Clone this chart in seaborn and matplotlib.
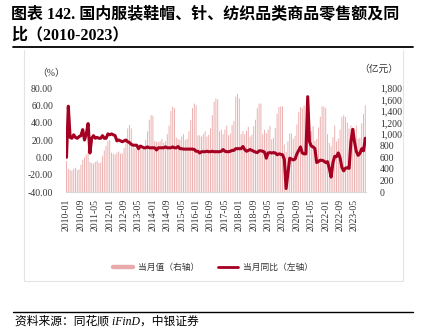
import numpy as np
import matplotlib
matplotlib.use("Agg")
import matplotlib.pyplot as plt
import seaborn as sns
from matplotlib.lines import Line2D
from matplotlib.ticker import FuncFormatter, MultipleLocator

# Monthly retail sales of apparel, footwear, hats, knitwear and textiles
months = [f"{y}-{m:02d}" for y in range(2010, 2024) for m in range(1, 13)][:167]

# 当月值 (亿元), right axis
retail_value = [
    536, 400, 380, 370, 400, 420, 380, 390, 470, 560, 600, 650,        # 2010
    720, 520, 500, 490, 520, 540, 500, 510, 620, 720, 800, 880,        # 2011
    900, 680, 660, 650, 680, 700, 660, 670, 760, 900, 1100, 1160,      # 2012
    1100, 790, 760, 740, 780, 800, 740, 760, 900, 1050, 1250, 1330,    # 2013
    1320, 880, 870, 860, 880, 920, 850, 880, 1000, 1150, 1400, 1480,   # 2014
    1450, 940, 920, 900, 960, 1000, 900, 920, 1050, 1250, 1450, 1530,  # 2015
    1500, 980, 980, 960, 1000, 1050, 960, 990, 1100, 1330, 1560, 1620, # 2016
    1600, 1050, 1080, 1000, 1080, 1150, 980, 1010, 1160, 1230, 1650, 1700,  # 2017
    1620, 1000, 1050, 1000, 1060, 1130, 960, 990, 1140, 1250, 1450, 1530,  # 2018
    1530, 1000, 1076, 1017, 1080, 1147, 912, 932, 1107, 1353, 1470, 1480,  # 2019
    1480, 820, 694, 877, 1013, 1012, 921, 972, 1168, 1380, 1466, 1450,     # 2020
    1500, 1060, 1062, 1017, 1051, 1139, 880, 919, 1116, 1301, 1480, 1480,  # 2021
    1450, 1000, 848, 792, 944, 1150, 873, 922, 1080, 1300, 1330, 1300,     # 2022
    1200, 1100, 1150, 1042, 1096, 1150, 919, 938, 1190, 1351, 1500,        # 2023
]

# 当月同比 (%), left axis
yoy_pct = [
    0, 59, 23, 22, 26, 23, 22, 24, 25, 32, 20, 27,                     # 2010
    39, 5, 22, 25, 22, 23, 22, 22, 25, 22, 22, 27,                     # 2011
    26, 27, 26, 25, 19, 20, 19, 18, 19, 20, 18, 17,                    # 2012
    15, 14, 14, 14, 10, 13, 12, 11, 11, 12, 11, 11,                    # 2013
    11, 11, 8.5, 11, 11, 11, 11, 12, 11, 11, 11, 12,                   # 2014
    11, 11, 12.5, 10, 10, 9.5, 9.5, 9.5, 9.5, 9.5, 9.5, 9,             # 2015
    7, 7, 5, 6.5, 6.5, 6.5, 7, 6.5, 6.5, 7, 6.5, 6.5,                  # 2016
    6.5, 6.5, 7, 9, 7, 6.5, 6.5, 7, 8, 8, 10, 10,                      # 2017
    10, 10, 12.5, 9, 7, 8, 9, 8, 7, 6, 5.5, 7.5,                       # 2018
    7.5, 7, 6, -1, 5, 5.5, 5, 5.5, 5, 3, 4, 3.5,                       # 2019
    3, -2, -36, -18.5, -1, -2, -3, -2, 4, 8, 12, 5,                    # 2020
    4, 4, 70, 18, 13, 12, 10, -6, -4.8, -3.3, -3.5, -4.3,              # 2021
    -6, -5, -12.7, -22.8, -6.4, 1.2, 0.8, 5.1, -0.7, -11.6, -15.6, -12.5,  # 2022
    -12, -12.7, 17.7, 32.4, 17.6, 6.9, 2.3, 4.5, 9.9, 7.5, 22.0,       # 2023
]

BAR_COLOR = "#EDB2B2"
LINE_COLOR = "#A50021"
TEXT_COLOR = "#333333"
GRID_GRAY = "#D9D9D9"

sns.set_style("white")
plt.rcParams["font.family"] = ["Liberation Serif", "Noto Sans CJK SC"]
plt.rcParams["axes.unicode_minus"] = False

W, H = 422, 335
fig = plt.figure(figsize=(W / 100, H / 100), dpi=100)

def fx(px):
    return px / W

def fy(py):
    return 1 - py / H

n = len(months)
pos = np.arange(n)

# base axes holds the bars (scale shown on the right), twin holds the line
ax_bar = fig.add_axes([fx(65.6), fy(192), fx(366.2) - fx(65.6), fy(88) - fy(192)])
ax_line = ax_bar.twinx()

sns.barplot(x=pos, y=retail_value, ax=ax_bar, color=BAR_COLOR, width=0.55,
            saturation=1, errorbar=None, native_scale=True, linewidth=0)
# bars are under two pixels apart, so keep them from snapping to zero width
for bar in ax_bar.patches:
    bar.set_snap(False)

sns.lineplot(x=pos, y=yoy_pct, ax=ax_line, color=LINE_COLOR, linewidth=2.2)

ax_bar.yaxis.tick_right()
ax_line.yaxis.tick_left()

ax_bar.set_xlim(-0.5, n - 0.5)
ax_bar.set_ylim(0, 1800)
ax_line.set_ylim(-40, 80)
ax_line.yaxis.set_major_locator(MultipleLocator(20))
ax_bar.yaxis.set_major_locator(MultipleLocator(200))
ax_line.yaxis.set_major_formatter(FuncFormatter(lambda v, _: f"{v:.2f}"))
ax_bar.yaxis.set_major_formatter(FuncFormatter(lambda v, _: f"{v:,.0f}"))

tick_pos = pos[::8]
ax_bar.set_xticks(tick_pos)
ax_bar.set_xticklabels([months[i] for i in tick_pos], rotation=90)

for a in (ax_bar, ax_line):
    a.set_xlabel("")
    a.set_ylabel("")
    for s in a.spines.values():
        s.set_visible(False)
ax_bar.spines["bottom"].set_visible(True)
ax_bar.spines["bottom"].set_color(GRID_GRAY)
ax_bar.spines["bottom"].set_linewidth(0.8)

ax_bar.tick_params(axis="x", length=3, width=0.6, color=GRID_GRAY, labelsize=7,
                   labelcolor=TEXT_COLOR, pad=2)
ax_line.tick_params(axis="y", length=0, labelsize=7, labelcolor=TEXT_COLOR, pad=9)
ax_bar.tick_params(axis="y", length=0, labelsize=7, labelcolor=TEXT_COLOR, pad=10)

# unit labels
fig.text(fx(51), fy(73), "（%）", fontsize=7, color=TEXT_COLOR, ha="center", va="center")
fig.text(fx(379), fy(69), "（亿元）", fontsize=7, color=TEXT_COLOR, ha="center", va="center")

# title
fig.text(fx(11), fy(14), "图表 142. 国内服装鞋帽、针、纺织品类商品零售额及同",
         fontsize=11.5, fontweight="bold", ha="left", va="center", color="black")
fig.text(fx(11), fy(35), "比（2010-2023）",
         fontsize=11.5, fontweight="bold", ha="left", va="center", color="black")
fig.add_artist(Line2D([fx(13), fx(413)], [fy(46.5)] * 2, color="black", lw=1.3))

# frame around the chart panel
fig.add_artist(Line2D([fx(24), fx(24)], [fy(50), fy(281)], color="#E3E3E3", lw=0.8))
fig.add_artist(Line2D([fx(403), fx(403)], [fy(50), fy(281)], color="#E3E3E3", lw=0.8))
fig.add_artist(Line2D([fx(24), fx(403)], [fy(281), fy(281)], color="#E3E3E3", lw=0.8))

# legend
handles = [Line2D([], [], color="#E8AAAA", lw=3.2),
           Line2D([], [], color=LINE_COLOR, lw=2.0)]
fig.legend(handles, ["当月值（右轴）", "当月同比（左轴）"], loc="center",
           bbox_to_anchor=(fx(213), fy(268)), ncol=2, frameon=False,
           fontsize=6.3, handlelength=2.3, handletextpad=0.5, columnspacing=2.2,
           labelcolor=TEXT_COLOR)

# source line
fig.add_artist(Line2D([fx(13), fx(413)], [fy(312)] * 2, color="black", lw=1.0))
fig.text(fx(15), fy(322), "资料来源：同花顺 iFinD，中银证券", fontsize=8.5,
         fontstyle="italic", ha="left", va="center", color="black")

fig.savefig("out.png", dpi=100)
